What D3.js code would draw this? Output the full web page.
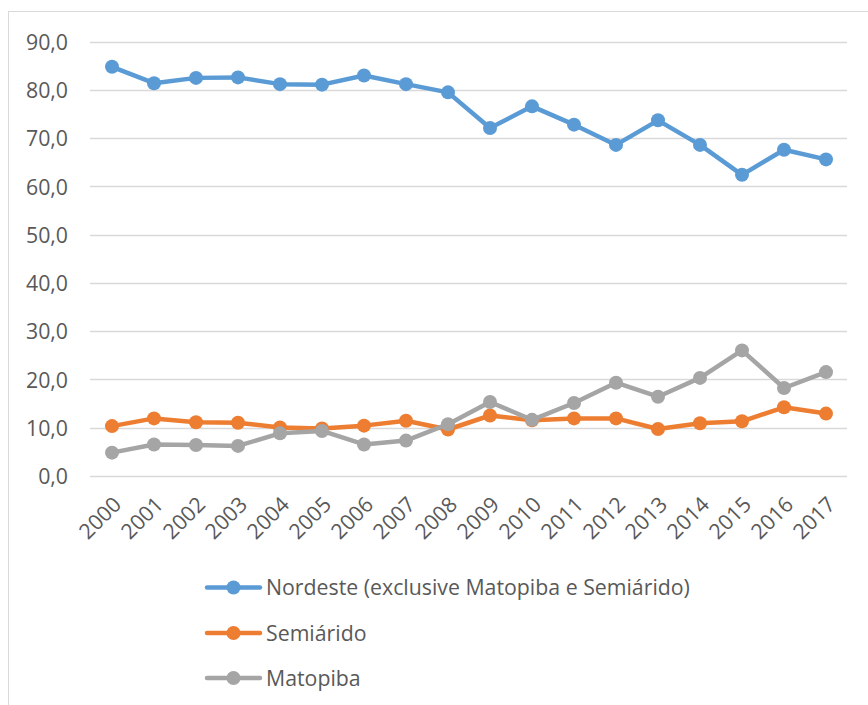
<!DOCTYPE html>
<html>
<head>
<meta charset="utf-8">
<script src="https://cdn.jsdelivr.net/npm/d3@7"></script>
<style>
  html, body { margin: 0; padding: 0; background: #fff; }
  svg { display: block; }
  text { font-family: "Open Sans", "Noto Sans", sans-serif; fill: #595959; }
</style>
</head>
<body>
<svg id="chart" width="868" height="705"></svg>
<script>
// Years on the category axis
const years = ["2000","2001","2002","2003","2004","2005","2006","2007","2008",
               "2009","2010","2011","2012","2013","2014","2015","2016","2017"];

// Series values (%)
const nordeste = [84.8, 81.4, 82.5, 82.6, 81.2, 81.1, 83.0, 81.2, 79.5,
                  72.1, 76.6, 72.8, 68.6, 73.7, 68.6, 62.4, 67.6, 65.6];
const semiarido = [10.3, 11.9, 11.1, 11.0, 10.0, 9.8, 10.4, 11.4, 9.6,
                   12.5, 11.5, 11.9, 11.9, 9.7, 10.9, 11.3, 14.2, 12.9];
const matopiba = [4.8, 6.5, 6.4, 6.2, 8.8, 9.3, 6.5, 7.3, 10.7,
                  15.3, 11.6, 15.1, 19.3, 16.4, 20.3, 26.0, 18.2, 21.5];

// Value-axis tick labels
const yTicks = [0, 10, 20, 30, 40, 50, 60, 70, 80, 90];
const yTickLabels = ["0,0","10,0","20,0","30,0","40,0","50,0","60,0","70,0","80,0","90,0"];

const seriesNames = ["Nordeste (exclusive Matopiba e Semiárido)", "Semiárido", "Matopiba"];
const seriesColors = ["#5B9BD5", "#ED7D31", "#A5A5A5"];
const seriesValues = [nordeste, semiarido, matopiba];

const fontSize = 21.3;
const svg = d3.select("#chart");

// Chart frame
svg.append("rect")
  .attr("x", 8.5).attr("y", 11.5)
  .attr("width", 900).attr("height", 720)
  .attr("fill", "none").attr("stroke", "#D9D9D9").attr("stroke-width", 1);

const x = d3.scalePoint().domain(years).range([112, 826]);
const y = d3.scaleLinear().domain([0, 90]).range([475.8, 41.7]);

const gridLeft = 90, gridRight = 847;

// Horizontal gridlines
svg.append("g")
  .selectAll("line")
  .data(yTicks)
  .join("line")
  .attr("x1", gridLeft).attr("x2", gridRight)
  .attr("y1", d => Math.round(y(d)) + 0.5).attr("y2", d => Math.round(y(d)) + 0.5)
  .attr("stroke", "#D9D9D9").attr("stroke-width", 1.3);

// Y axis labels
const yAxis = d3.axisLeft(y)
  .tickValues(yTicks)
  .tickFormat((d, i) => yTickLabels[i])
  .tickSize(0)
  .tickPadding(0);
const yg = svg.append("g").attr("transform", "translate(68,0)").call(yAxis);
yg.select(".domain").remove();
yg.selectAll("text")
  .attr("font-size", fontSize)
  .attr("font-family", "'Open Sans', sans-serif")
  .attr("fill", "#595959")
  .attr("dy", "0.36em");

// X axis labels, rotated
const xAxis = d3.axisBottom(x).tickSize(0).tickPadding(0);
const xg = svg.append("g").attr("transform", "translate(0,476)").call(xAxis);
xg.select(".domain").remove();
xg.selectAll("text")
  .attr("font-size", fontSize)
  .attr("font-family", "'Open Sans', sans-serif")
  .attr("fill", "#595959")
  .attr("y", 0).attr("dy", 0)
  .attr("text-anchor", "end")
  .attr("transform", "translate(10,30) rotate(-45)");

// Series lines and markers
const line = d3.line()
  .x((d, i) => x(years[i]))
  .y(d => y(d));

seriesValues.forEach((vals, k) => {
  const g = svg.append("g");
  g.append("path")
    .datum(vals)
    .attr("d", line)
    .attr("fill", "none")
    .attr("stroke", seriesColors[k])
    .attr("stroke-width", 4.5)
    .attr("stroke-linejoin", "round")
    .attr("stroke-linecap", "round");
  g.selectAll("circle")
    .data(vals)
    .join("circle")
    .attr("cx", (d, i) => x(years[i]))
    .attr("cy", d => y(d))
    .attr("r", 7)
    .attr("fill", seriesColors[k]);
});

// Legend
const legendY = [587.5, 633, 678];
const legend = svg.append("g");
seriesNames.forEach((name, k) => {
  const row = legend.append("g").attr("transform", `translate(0,${legendY[k]})`);
  row.append("line")
    .attr("x1", 207).attr("x2", 260)
    .attr("y1", 0).attr("y2", 0)
    .attr("stroke", seriesColors[k]).attr("stroke-width", 4.5)
    .attr("stroke-linecap", "round");
  row.append("circle")
    .attr("cx", 233.5).attr("cy", 0).attr("r", 7)
    .attr("fill", seriesColors[k]);
  row.append("text")
    .attr("x", 266).attr("y", 0).attr("dy", "0.36em")
    .attr("font-size", fontSize)
    .text(name);
});
</script>
</body>
</html>
